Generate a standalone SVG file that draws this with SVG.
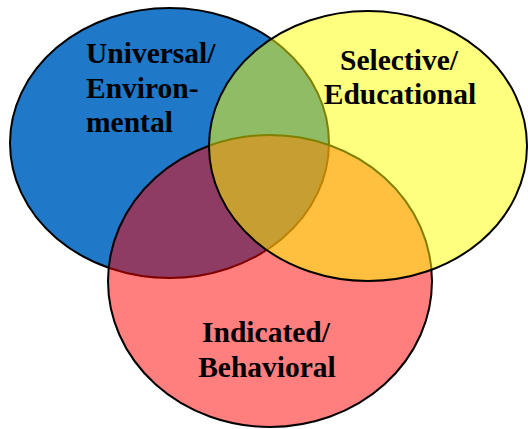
<svg xmlns="http://www.w3.org/2000/svg" width="528" height="429" viewBox="0 0 528 429">
<style>
.c{stroke:#000;stroke-width:2}
text{font-family:"Liberation Serif","Times New Roman",Times,serif;font-weight:bold;font-size:29.5px;fill:#000}
</style>
<rect width="528" height="429" fill="#fff"/>
<g id="universal">
<ellipse class="c" cx="169.5" cy="143" rx="159.5" ry="135" fill="#1f78c8"/>
</g>
<g id="indicated">
<ellipse class="c" cx="270" cy="281" rx="162" ry="146" fill="rgba(255,0,0,0.5)"/>
</g>
<g id="selective">
<ellipse class="c" cx="368" cy="146" rx="159" ry="135" fill="rgba(255,255,0,0.5)"/>
</g>
<g id="labels">
<text x="86" y="63">Universal/</text>
<text x="86" y="98">Environ-</text>
<text x="86" y="132">mental</text>
<text x="399" y="70" text-anchor="middle">Selective/</text>
<text x="400" y="104" text-anchor="middle">Educational</text>
<text x="266" y="342" text-anchor="middle">Indicated/</text>
<text x="267" y="377" text-anchor="middle">Behavioral</text>
</g>
</svg>
